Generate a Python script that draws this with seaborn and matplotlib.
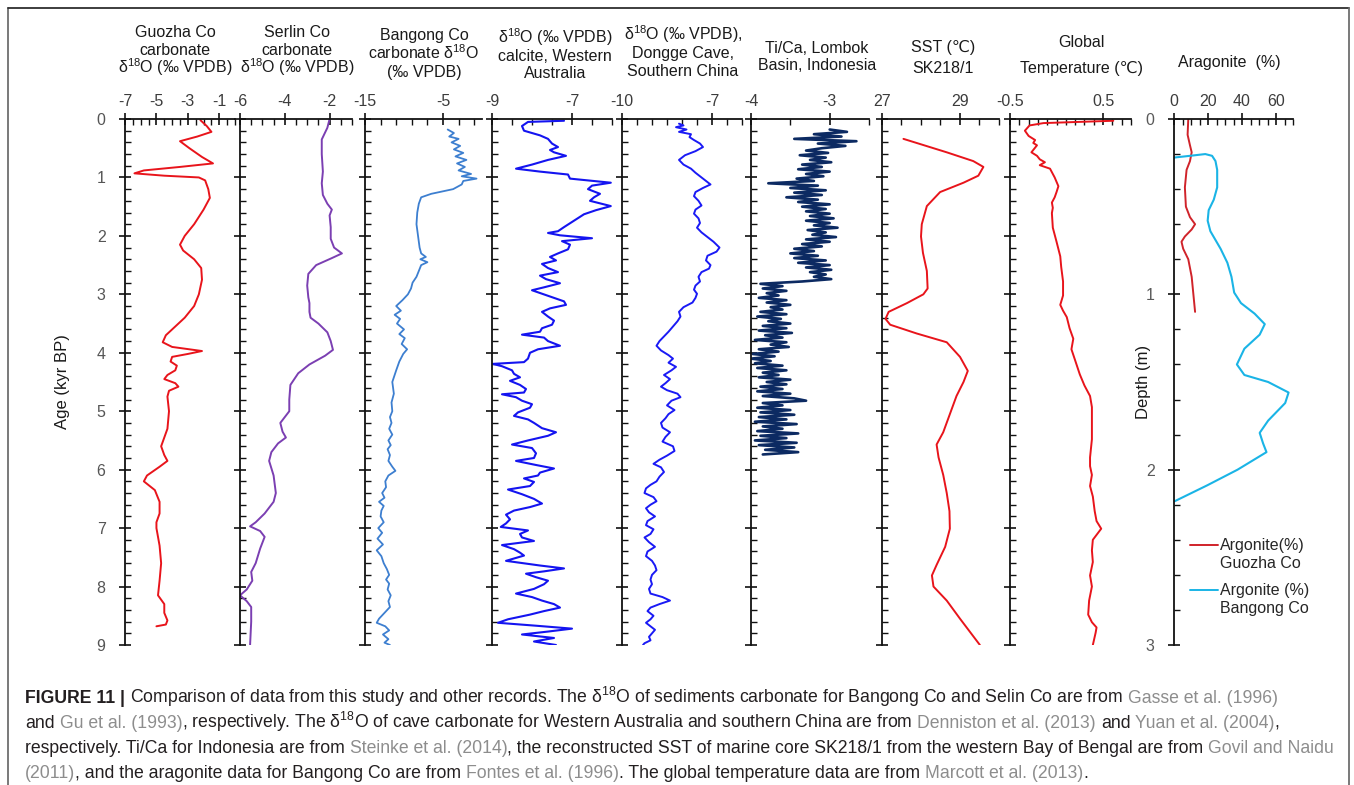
import numpy as np
import matplotlib
matplotlib.use("Agg")
import matplotlib.pyplot as plt
from matplotlib.lines import Line2D
from matplotlib.ticker import FixedLocator, FixedFormatter, MultipleLocator
import seaborn as sns

sns.set_theme(style="ticks")
plt.rcParams["font.family"] = ["Liberation Sans", "DejaVu Sans"]
plt.rcParams["mathtext.fontset"] = "custom"
plt.rcParams["mathtext.rm"] = "Liberation Sans"
plt.rcParams["mathtext.it"] = "Liberation Sans:italic"
plt.rcParams["mathtext.bf"] = "Liberation Sans:bold"
plt.rcParams["axes.unicode_minus"] = False
plt.rcParams["lines.solid_joinstyle"] = "round"

# ---------------- records (age in kyr BP) ----------------
guozha_age = [0.02, 0.12, 0.22, 0.30, 0.38, 0.50, 0.65, 0.76, 0.82, 0.88, 0.93, 0.97, 1.00, 1.05,
              1.20, 1.35, 1.55, 1.80, 2.00, 2.15, 2.25, 2.40, 2.55, 2.75, 3.00, 3.20, 3.40, 3.55,
              3.70, 3.82, 3.90, 3.97, 4.02, 4.07, 4.15, 4.22, 4.30, 4.38, 4.45, 4.52, 4.58, 4.65,
              4.75, 5.00, 5.30, 5.60, 5.75, 5.85, 5.95, 6.10, 6.20, 6.35, 6.55, 6.75, 6.90, 7.00,
              7.30, 7.60, 7.90, 8.15, 8.30, 8.45, 8.58, 8.65, 8.68]
guozha_d18o = [-2.2, -1.8, -1.5, -2.4, -3.5, -2.9, -2.1, -1.4, -3.5, -5.8, -6.4, -4.5, -2.3, -1.9,
               -1.7, -1.6, -2.0, -2.6, -3.2, -3.5, -3.3, -2.6, -2.15, -2.1, -2.3, -2.6, -3.2, -3.8,
               -4.4, -4.6, -4.0, -2.1, -3.0, -4.0, -4.1, -3.7, -3.8, -4.3, -4.5, -3.8, -3.6, -4.2,
               -4.3, -4.2, -4.3, -4.7, -4.5, -4.3, -4.8, -5.6, -5.8, -5.1, -4.8, -4.8, -5.0, -5.0,
               -4.8, -4.7, -4.8, -4.9, -4.5, -4.5, -4.3, -4.4, -5.0]

serlin_age = [0.0, 0.15, 0.35, 0.6, 0.9, 1.1, 1.3, 1.45, 1.55, 1.65, 1.85, 2.05, 2.2, 2.3, 2.38,
              2.5, 2.65, 2.85, 3.05, 3.15, 3.3, 3.4, 3.5, 3.65, 3.8, 3.95, 4.05, 4.2, 4.35, 4.55,
              4.8, 5.0, 5.2, 5.35, 5.45, 5.55, 5.7, 5.85, 6.1, 6.4, 6.55, 6.75, 6.9, 6.97, 7.05,
              7.15, 7.35, 7.6, 7.75, 7.9, 8.05, 8.15, 8.25, 8.35, 8.6, 9.0]
serlin_d18o = [-2.0, -2.1, -2.35, -2.35, -2.3, -2.35, -2.3, -2.1, -1.9, -2.0, -1.95, -1.95, -1.8,
               -1.45, -1.9, -2.6, -2.95, -3.0, -2.95, -2.9, -2.9, -2.85, -2.5, -2.1, -1.95, -1.85,
               -2.2, -2.9, -3.4, -3.75, -3.8, -3.8, -4.2, -4.1, -3.95, -4.3, -4.6, -4.7, -4.5,
               -4.4, -4.5, -4.9, -5.3, -5.55, -5.1, -4.9, -5.1, -5.3, -5.5, -5.45, -5.7, -6.0,
               -5.7, -5.5, -5.5, -5.55]

bangong_age = [0.18, 0.24, 0.30, 0.34, 0.40, 0.46, 0.52, 0.58, 0.64, 0.70, 0.76, 0.82, 0.88, 0.94,
               0.98, 1.02, 1.06, 1.12, 1.20, 1.28, 1.34, 1.45, 1.60, 1.80, 2.00, 2.20, 2.30, 2.36,
               2.40, 2.45, 2.50, 2.60, 2.70, 2.80, 2.90, 3.00, 3.10, 3.20, 3.28, 3.35, 3.42, 3.50,
               3.60, 3.68, 3.75, 3.85, 3.94, 4.02, 4.15, 4.30, 4.50, 4.70, 4.85, 5.00, 5.10, 5.20,
               5.30, 5.40, 5.50, 5.58, 5.65, 5.75, 5.85, 5.95, 6.02, 6.10, 6.20, 6.30, 6.40, 6.48,
               6.55, 6.62, 6.70, 6.80, 6.90, 7.00, 7.08, 7.18, 7.28, 7.38, 7.48, 7.60, 7.70, 7.80,
               7.88, 7.95, 8.05, 8.15, 8.25, 8.35, 8.45, 8.55, 8.62, 8.68, 8.75, 8.82, 8.90, 8.96,
               9.00]
bangong_d18o = [-4.4, -3.6, -4.2, -3.0, -3.9, -2.8, -3.6, -2.4, -3.4, -2.0, -3.2, -2.2, -3.0, -1.4,
                -2.6, -0.7, -2.4, -2.6, -3.7, -6.5, -7.8, -8.1, -8.3, -8.4, -8.2, -8.0, -7.8, -7.2,
                -7.9, -7.0, -7.8, -8.1, -8.4, -8.9, -9.1, -9.5, -10.2, -11.0, -10.4, -11.2, -10.5,
                -10.9, -10.0, -10.6, -9.9, -10.3, -9.6, -10.1, -10.6, -11.0, -11.5, -11.3, -11.6,
                -11.5, -11.8, -11.6, -11.9, -11.5, -12.0, -11.7, -12.1, -11.8, -12.0, -11.5, -11.1,
                -12.0, -12.4, -12.3, -12.8, -12.5, -13.2, -12.6, -12.9, -13.0, -12.6, -13.3, -12.8,
                -13.4, -12.7, -13.5, -12.9, -12.6, -12.2, -11.9, -12.3, -11.9, -12.1, -11.7, -12.0,
                -11.8, -12.5, -13.2, -13.5, -12.4, -11.9, -12.7, -12.0, -12.5, -11.8]

wa_age = [0.03, 0.05, 0.12, 0.20, 0.28, 0.34, 0.42, 0.48, 0.53, 0.57, 0.63, 0.70, 0.78, 0.85, 0.90,
          0.95, 1.02, 1.09, 1.14, 1.20, 1.28, 1.34, 1.40, 1.49, 1.56, 1.63, 1.74, 1.85, 1.92, 1.95,
          1.99, 2.04, 2.09, 2.15, 2.23, 2.30, 2.36, 2.42, 2.48, 2.55, 2.62, 2.68, 2.74, 2.81, 2.88,
          2.93, 2.99, 3.06, 3.12, 3.18, 3.24, 3.30, 3.38, 3.45, 3.52, 3.58, 3.64, 3.69, 3.74, 3.80,
          3.88, 3.94, 4.00, 4.10, 4.16, 4.19, 4.23, 4.30, 4.36, 4.42, 4.48, 4.55, 4.62, 4.68, 4.71,
          4.76, 4.82, 4.88, 4.94, 5.02, 5.08, 5.14, 5.20, 5.29, 5.36, 5.42, 5.50, 5.57, 5.63, 5.72,
          5.80, 5.85, 5.92, 5.98, 6.05, 6.10, 6.15, 6.21, 6.28, 6.34, 6.42, 6.50, 6.58, 6.64, 6.70,
          6.77, 6.85, 6.92, 6.98, 7.04, 7.10, 7.16, 7.22, 7.29, 7.36, 7.42, 7.47, 7.56, 7.64, 7.69,
          7.74, 7.78, 7.84, 7.90, 7.96, 8.04, 8.12, 8.18, 8.24, 8.30, 8.36, 8.42, 8.48, 8.56, 8.62,
          8.67, 8.72, 8.77, 8.82, 8.88, 8.94, 9.00]
wa_d18o = [-7.20, -8.10, -8.25, -8.20, -7.80, -7.60, -7.50, -7.35, -7.55, -7.45, -7.15, -7.60, -8.00,
           -8.40, -7.80, -7.10, -7.05, -6.03, -6.50, -6.60, -6.30, -6.45, -6.55, -6.03, -6.40, -6.70,
           -6.95, -7.20, -7.35, -7.60, -7.30, -6.50, -7.25, -7.05, -7.10, -7.35, -7.55, -7.40, -7.75,
           -7.60, -7.35, -7.80, -7.65, -7.30, -7.70, -8.00, -7.75, -7.45, -7.20, -7.15, -7.55, -7.75,
           -7.60, -7.45, -7.50, -7.75, -7.80, -8.25, -7.70, -7.60, -7.30, -7.85, -8.05, -8.10, -8.20,
           -8.98, -8.75, -8.50, -8.45, -8.30, -8.55, -8.30, -8.15, -8.20, -8.75, -8.40, -8.25, -8.00,
           -8.05, -8.35, -8.45, -8.10, -7.95, -7.75, -7.40, -7.60, -8.10, -8.50, -8.00, -7.90, -7.95,
           -8.40, -7.90, -7.45, -7.80, -7.85, -8.20, -7.95, -8.05, -8.60, -8.25, -7.95, -7.75, -8.05,
           -8.45, -8.65, -8.55, -8.65, -8.78, -8.10, -8.30, -8.25, -7.95, -8.75, -8.45, -8.30, -8.20,
           -8.65, -7.80, -7.20, -7.70, -8.15, -7.90, -7.60, -7.70, -7.95, -8.40, -8.00, -7.75, -7.45,
           -7.30, -7.70, -8.05, -8.60, -8.85, -7.90, -7.00, -7.60, -8.25, -7.45, -7.95, -7.40]

dongge_age = [0.08, 0.11, 0.14, 0.18, 0.22, 0.26, 0.31, 0.36, 0.42, 0.48, 0.55, 0.62, 0.70, 0.78,
              0.85, 0.92, 1.00, 1.06, 1.12, 1.18, 1.25, 1.32, 1.40, 1.48, 1.55, 1.62, 1.70, 1.78,
              1.86, 1.94, 2.02, 2.10, 2.20, 2.27, 2.34, 2.42, 2.50, 2.56, 2.62, 2.70, 2.78, 2.85,
              2.92, 2.99, 3.06, 3.14, 3.22, 3.30, 3.38, 3.46, 3.55, 3.64, 3.72, 3.80, 3.88, 3.96,
              4.04, 4.10, 4.17, 4.24, 4.30, 4.38, 4.45, 4.52, 4.58, 4.64, 4.70, 4.76, 4.82, 4.90,
              4.98, 5.05, 5.12, 5.20, 5.28, 5.36, 5.44, 5.52, 5.60, 5.68, 5.76, 5.83, 5.90, 5.96,
              6.04, 6.12, 6.20, 6.26, 6.32, 6.40, 6.47, 6.54, 6.60, 6.66, 6.73, 6.80, 6.88, 6.95,
              7.02, 7.10, 7.16, 7.24, 7.32, 7.40, 7.48, 7.56, 7.64, 7.72, 7.80, 7.88, 7.96, 8.04,
              8.12, 8.18, 8.24, 8.30, 8.36, 8.42, 8.50, 8.56, 8.62, 8.68, 8.74, 8.80, 8.86, 8.92,
              8.97, 9.00]
dongge_d18o = [-8.10, -7.95, -8.20, -7.85, -8.10, -7.70, -7.75, -7.60, -7.40, -7.30, -7.55, -7.90,
               -8.10, -7.95, -7.70, -7.55, -7.35, -7.20, -7.05, -7.30, -7.55, -7.60, -7.45, -7.35,
               -7.55, -7.60, -7.45, -7.40, -7.50, -7.35, -7.15, -6.95, -6.75, -6.85, -7.15, -7.20,
               -7.05, -7.10, -7.35, -7.45, -7.40, -7.55, -7.60, -7.50, -7.55, -7.65, -7.95, -8.10,
               -8.05, -8.15, -8.30, -8.45, -8.60, -8.75, -8.85, -8.70, -8.45, -8.30, -8.45, -8.20,
               -8.35, -8.60, -8.40, -8.55, -8.70, -8.50, -8.15, -8.05, -8.35, -8.50, -8.25, -8.45,
               -8.55, -8.70, -8.65, -8.40, -8.55, -8.65, -8.30, -8.25, -8.50, -8.75, -8.95, -8.70,
               -8.60, -8.75, -8.85, -9.05, -9.20, -9.25, -8.95, -8.85, -9.05, -9.20, -9.10, -8.90,
               -9.15, -9.20, -8.95, -9.05, -9.25, -9.10, -8.90, -9.15, -9.20, -9.00, -8.90, -8.85,
               -9.00, -9.05, -9.00, -9.10, -9.05, -8.65, -8.40, -8.75, -9.05, -9.15, -8.95, -9.05,
               -9.20, -9.05, -8.90, -9.00, -9.10, -9.05, -9.25, -9.30]

tica_age = [0.18, 0.22, 0.26, 0.30, 0.34, 0.38, 0.42, 0.46, 0.50, 0.54, 0.58, 0.62, 0.66, 0.70,
            0.74, 0.78, 0.82, 0.86, 0.90, 0.94, 0.98, 1.02, 1.06, 1.10, 1.14, 1.18, 1.22, 1.26,
            1.30, 1.34, 1.38, 1.42, 1.46, 1.50, 1.54, 1.58, 1.62, 1.66, 1.70, 1.74, 1.78, 1.82,
            1.86, 1.90, 1.94, 1.98, 2.02, 2.06, 2.10, 2.14, 2.18, 2.22, 2.26, 2.30, 2.34, 2.38,
            2.42, 2.46, 2.50, 2.54, 2.58, 2.62, 2.66, 2.70, 2.74, 2.78, 2.82, 2.86, 2.90, 2.94,
            2.98, 3.02, 3.06, 3.10, 3.14, 3.18, 3.22, 3.26, 3.30, 3.34, 3.38, 3.42, 3.46, 3.50,
            3.54, 3.58, 3.62, 3.66, 3.70, 3.74, 3.78, 3.82, 3.86, 3.90, 3.94, 3.98, 4.02, 4.06,
            4.10, 4.14, 4.18, 4.22, 4.26, 4.30, 4.34, 4.38, 4.42, 4.46, 4.50, 4.54, 4.58, 4.62,
            4.66, 4.70, 4.74, 4.78, 4.82, 4.86, 4.90, 4.94, 4.98, 5.02, 5.06, 5.10, 5.14, 5.18,
            5.22, 5.26, 5.30, 5.34, 5.38, 5.42, 5.46, 5.50, 5.54, 5.58, 5.62, 5.66, 5.70, 5.74]
tica_ratio = [-3.00, -2.78, -3.20, -2.85, -3.45, -2.66, -3.15, -2.80, -3.10,
              -3.30, -3.02, -3.38, -3.05, -3.25, -2.98, -3.35, -3.10, -3.40, -3.00, -3.30, -3.08, -3.42,
              -3.20, -3.78, -3.15, -3.50, -3.05, -3.45, -3.10, -3.55, -3.15, -3.40, -3.00, -3.35, -3.05, -3.30,
              -3.00, -3.25, -2.95, -3.30, -3.00, -3.20, -2.90, -3.28, -3.05, -3.22, -2.92, -3.30, -3.00,
              -3.35, -3.10, -3.45,
              -3.20, -3.50, -3.15, -3.45, -3.05, -3.40, -3.00, -3.30, -2.98, -3.25, -3.05, -3.20, -2.98,
              -3.35,
              -3.88, -3.60, -3.85, -3.55, -3.80, -3.65, -3.90, -3.55, -3.80, -3.50, -3.75, -3.60, -3.88,
              -3.55, -3.92, -3.62, -3.78, -3.50,
              -3.85, -3.55, -3.90, -3.48, -3.82, -3.60, -3.95, -3.55, -3.75, -3.52, -3.90, -3.65, -3.98,
              -3.70,
              -4.00, -3.75, -3.95, -3.60, -3.92, -3.55, -3.85, -3.65, -3.90, -3.50,
              -3.80, -3.55, -3.88, -3.60, -3.92, -3.50, -3.85, -3.45, -3.30, -3.85,
              -3.60, -3.92, -3.50, -3.88, -3.45, -3.90, -3.55, -3.95, -3.42, -3.85, -3.60, -3.92, -3.40,
              -3.88, -3.55, -3.95, -3.42, -3.90, -3.45, -3.82, -3.40, -3.85]

sst_age = [0.34, 0.57, 0.72, 0.82, 0.97, 1.09, 1.25, 1.49, 1.80, 2.01, 2.29, 2.60, 2.90, 3.00,
           3.15, 3.30, 3.42, 3.52, 3.67, 3.82, 4.07, 4.31, 4.50, 4.74, 5.05, 5.36, 5.57, 5.79,
           6.09, 6.40, 6.71, 7.01, 7.32, 7.63, 7.81, 8.00, 8.24, 8.55, 8.85, 9.00]
sst_c = [27.55, 28.66, 29.34, 29.60, 29.47, 29.09, 28.49, 28.15, 28.02, 28.00, 28.05, 28.15, 28.17,
         28.06, 27.64, 27.17, 27.09, 27.21, 27.89, 28.66, 29.00, 29.20, 29.09, 28.91, 28.74, 28.57,
         28.40, 28.45, 28.57, 28.66, 28.73, 28.74, 28.62, 28.40, 28.28, 28.32, 28.66, 29.00, 29.34,
         29.51]

gt_age = [0.03, 0.07, 0.11, 0.20, 0.29, 0.36, 0.41, 0.45, 0.57, 0.63, 0.69, 0.74, 0.79, 0.85, 1.00,
          1.15, 1.25, 1.34, 1.43, 1.52, 1.61, 1.86, 2.10, 2.35, 2.53, 2.78, 3.02, 3.18, 3.28, 3.39,
          3.58, 3.76, 3.94, 4.13, 4.37, 4.56, 4.74, 4.93, 5.17, 5.48, 5.79, 5.94, 6.09, 6.28, 6.46,
          6.71, 6.88, 7.01, 7.20, 7.38, 7.58, 7.81, 8.00, 8.24, 8.48, 8.61, 8.70, 8.79, 9.00]
gt_anom = [0.61, -0.14, -0.29, -0.34, -0.30, -0.23, -0.25, -0.21, -0.27, -0.21, -0.18, -0.125, -0.18,
           -0.07, -0.02, 0.02, 0.0, -0.02, -0.05, -0.04, -0.05, -0.04, 0.0, 0.04, 0.05, 0.07, 0.07,
           0.04, 0.07, 0.11, 0.14, 0.18, 0.16, 0.20, 0.25, 0.30, 0.36, 0.38, 0.38, 0.38, 0.36, 0.36,
           0.38, 0.36, 0.39, 0.41, 0.43, 0.48, 0.39, 0.38, 0.39, 0.36, 0.38, 0.35, 0.34, 0.38, 0.43,
           0.42, 0.39]

arag_gz_depth = [0.0, 0.09, 0.15, 0.19, 0.24, 0.29, 0.39, 0.50, 0.56, 0.60, 0.63, 0.67, 0.70, 0.74,
                 0.80, 0.90, 1.00, 1.10]
arag_gz_pct = [8.4, 8.0, 9.4, 10.4, 9.4, 7.4, 6.4, 7.0, 9.4, 12.4, 10.4, 6.4, 4.4, 5.4, 8.4, 10.4,
               11.4, 12.4]

arag_bg_depth = [0.22, 0.21, 0.20, 0.21, 0.24, 0.29, 0.39, 0.46, 0.52, 0.58, 0.64, 0.74, 0.82, 0.90,
                 0.99, 1.05, 1.11, 1.17, 1.23, 1.31, 1.40, 1.46, 1.50, 1.56, 1.62, 1.72, 1.79, 1.85,
                 1.90, 2.00, 2.09, 2.18]
arag_bg_pct = [0.0, 9.4, 18.4, 22.4, 24.4, 25.4, 25.4, 23.4, 20.4, 19.8, 21.4, 27.4, 31.4, 33.8,
               35.4, 39.4, 47.4, 53.4, 50.4, 41.4, 37.0, 41.4, 55.4, 67.4, 65.4, 55.4, 50.4, 52.4,
               54.4, 37.4, 19.4, 0.4]

# ---------------- layout helpers (pixel space) ----------------
W, H = 1354, 785
fig = plt.figure(figsize=(W / 100, H / 100), dpi=100)
fig.patch.set_facecolor("white")
TOP, BOT = 119, 645
TICK_COLOR = "#3c3c3c"


def add_panel(x0, x1):
    return fig.add_axes([x0 / W, 1 - BOT / H, (x1 - x0) / W, (BOT - TOP) / H])


def style(ax, xlim, major, major_lbl, minor, ylim, yticks, ylabels, ylab_color="#555555"):
    ax.set_facecolor("none")
    ax.set_xlim(*xlim)
    ax.set_ylim(*ylim)
    for s in ("right", "bottom"):
        ax.spines[s].set_visible(False)
    for s in ("left", "top"):
        ax.spines[s].set_color("#111111")
        ax.spines[s].set_linewidth(1.3)
    ax.xaxis.set_ticks_position("top")
    ax.xaxis.set_label_position("top")
    ax.xaxis.set_major_locator(FixedLocator(major))
    ax.xaxis.set_major_formatter(FixedFormatter(major_lbl))
    ax.xaxis.set_minor_locator(FixedLocator(minor))
    ax.yaxis.set_major_locator(FixedLocator(yticks))
    ax.yaxis.set_minor_locator(MultipleLocator(0.2))
    ax.tick_params(which="major", direction="inout", length=8, width=1.2, color="#111111",
                   labelsize=11.5, labelcolor=TICK_COLOR)
    ax.tick_params(which="minor", direction="in", length=4, width=1.0, color="#111111")
    ax.tick_params(axis="x", which="major", pad=3)
    ax.tick_params(axis="y", which="major", pad=10, labelcolor=ylab_color)
    ax.grid(False)
    ax.set_xlabel("")
    ax.set_ylabel("")
    if ylabels:
        ax.yaxis.set_major_formatter(FixedFormatter([str(v) for v in yticks]))
    else:
        ax.tick_params(axis="y", labelleft=False)


def trace(ax, x, y, color, lw=1.4):
    sns.lineplot(x=x, y=y, sort=False, estimator=None, color=color, linewidth=lw,
                 legend=False, ax=ax)


ages = list(range(10))
panels = [
    # x0, x1, xlim, major ticks, major labels, minor ticks, data, colour, lw
    (125, 235, (-7, 0), [-7, -5, -3, -1], ["-7", "-5", "-3", "-1"], np.arange(-7, 0.01, 0.5),
     (guozha_d18o, guozha_age), "#e8141b", 1.4),
    (240, 352, (-6, -1), [-6, -4, -2], ["-6", "-4", "-2"], np.arange(-6, -0.99, 0.5),
     (serlin_d18o, serlin_age), "#7b3fb2", 1.4),
    (365, 482, (-15, 0), [-15, -5], ["-15", "-5"], np.arange(-15, 0, 2),
     (bangong_d18o, bangong_age), "#3d7fd0", 1.3),
    (492, 612, (-9, -6), [-9, -7], ["-9", "-7"], np.arange(-9, -5.99, 0.5),
     (wa_d18o, wa_age), "#1414f0", 1.5),
    (622, 742, (-10, -6), [-10, -7], ["-10", "-7"], np.arange(-10, -5.99, 0.5),
     (dongge_d18o, dongge_age), "#1a1af5", 1.4),
    (751, 869, (-4, -2.5), [-4, -3], ["-4", "-3"], np.arange(-4, -2.49, 0.5),
     (tica_ratio, tica_age), "#0c2a62", 1.9),
    (882, 999, (27, 30), [27, 29], ["27", "29"], np.arange(27, 30.01, 0.5),
     (sst_c, sst_age), "#e8141b", 1.4),
    (1010, 1131, (-0.5, 0.8), [-0.5, 0.5], ["-0.5", "0.5"], np.arange(-0.5, 0.81, 0.1),
     (gt_anom, gt_age), "#e8141b", 1.4),
]

for i, (x0, x1, xlim, mj, mjl, mn, (xv, yv), col, lw) in enumerate(panels):
    ax = add_panel(x0, x1)
    trace(ax, xv, yv, col, lw)
    style(ax, xlim, mj, mjl, mn, (9, 0), ages, ylabels=(i == 0))
    if i == 0:
        ax.set_ylabel("Age (kyr BP)", fontsize=12, color="#1a1a1a", labelpad=19)

# aragonite panel against depth
axd = add_panel(1174, 1293)
trace(axd, arag_gz_pct, arag_gz_depth, "#d0232a", 1.4)
trace(axd, arag_bg_pct, arag_bg_depth, "#1ab4e6", 1.5)
style(axd, (0, 70), [0, 20, 40, 60], ["0", "20", "40", "60"], np.arange(0, 70.1, 5),
      (3, 0), [0, 1, 2, 3], ylabels=True, ylab_color="#5a5a5a")
axd.set_ylabel("Depth (m)", fontsize=12, color="#1a1a1a", labelpad=-4)

# legend of the aragonite panel
for (ly, col, l1, l2) in [(545, "#d0232a", "Argonite(%)", "Guozha Co"),
                          (590, "#1ab4e6", "Argonite (%)", "Bangong Co")]:
    fig.add_artist(Line2D([1190 / W, 1218 / W], [1 - ly / H, 1 - ly / H], color=col, lw=1.4,
                          transform=fig.transFigure))
    fig.text(1220 / W, 1 - (ly + 5) / H, l1, fontsize=11.5, color="#262626", va="baseline")
    fig.text(1220 / W, 1 - (ly + 23) / H, l2, fontsize=11.5, color="#262626", va="baseline")

# column headings
D18 = "δ$^{18}$O"
headings = [
    (175, [("Guozha Co", 32), ("carbonate", 50), (D18 + " (‰ VPDB)", 68)]),
    (297, [("Serlin Co", 32), ("carbonate", 50), (D18 + " (‰ VPDB)", 68)]),
    (424, [("Bangong Co", 35), ("carbonate " + D18, 54), ("(‰ VPDB)", 72)]),
    (555, [(D18 + " (‰ VPDB)", 38), ("calcite, Western", 56), ("Australia", 73)]),
    (683, [(D18 + " (‰ VPDB),", 35), ("Dongge Cave,", 53), ("Southern China", 71)]),
    (817, [("Ti/Ca, Lombok", 48), ("Basin, Indonesia", 65)]),
    (943, [("SST (℃)", 47), ("SK218/1", 68)]),
    (1081, [("Global", 42), ("Temperature (℃)", 68)]),
    (1229, [("Aragonite  (%)", 62)]),
]
for cx, lines in headings:
    for txt, cy in lines:
        fig.text(cx / W, 1 - (cy + 5) / H, txt, fontsize=11.5, color="#1a1a1a",
                 ha="center", va="baseline")

# frame around the figure
for xs, ys, col in [([8, 8], [8, H], "#6e6e6e"), ([8, 1349], [8, 8], "#2e2e2e"),
                    ([1349, 1349], [8, H], "#6e6e6e")]:
    fig.add_artist(Line2D([x / W for x in xs], [1 - y / H for y in ys], color=col, lw=1.3,
                          transform=fig.transFigure))

# caption with highlighted citations, one common size fitted to the first line
DARK, GREY = "#231f20", "#8d8d8d"
caption = [
    (703, [("FIGURE 11 | ", "b"), ("Comparison of data from this study and other records. The "
                                    + D18 + " of sediments carbonate for Bangong Co and Selin Co are from ", "n"),
           ("Gasse et al. (1996)", "g")]),
    (728, [("and ", "n"), ("Gu et al. (1993)", "g"),
           (", respectively. The " + D18 + " of cave carbonate for Western Australia and southern China are from ", "n"),
           ("Denniston et al. (2013)", "g"), (" and ", "n"), ("Yuan et al. (2004)", "g"), (",", "n")]),
    (753, [("respectively. Ti/Ca for Indonesia are from ", "n"), ("Steinke et al. (2014)", "g"),
           (", the reconstructed SST of marine core SK218/1 from the western Bay of Bengal are from ", "n"),
           ("Govil and Naidu", "g")]),
    (778, [("(2011)", "g"), (", and the aragonite data for Bangong Co are from ", "n"),
           ("Fontes et al. (1996)", "g"), (". The global temperature data are from ", "n"),
           ("Marcott et al. (2013)", "g"), (".", "n")]),
]
CAP_X, CAP_END1 = 25, 1278
renderer = fig.canvas.get_renderer()


def space_width(size):
    p1 = fig.text(0, 0, "a a", fontsize=size)
    p2 = fig.text(0, 0, "aa", fontsize=size)
    w = p1.get_window_extent(renderer).width - p2.get_window_extent(renderer).width
    p1.remove()
    p2.remove()
    return w


def draw_line(y, pieces, size):
    sp = space_width(size)
    arts = []
    x = CAP_X
    for txt, kind in pieces:
        lead = len(txt) - len(txt.lstrip(" "))
        trail = len(txt) - len(txt.rstrip(" "))
        x += lead * sp
        t = fig.text(x / W, 1 - y / H, txt.strip(" "), fontsize=size, va="baseline", ha="left",
                     color=GREY if kind == "g" else DARK,
                     fontweight="bold" if kind == "b" else "normal")
        x += t.get_window_extent(renderer).width + trail * sp
        arts.append(t)
    return arts, x - CAP_X


probe_arts, probe_w = draw_line(caption[0][0], caption[0][1], 12.0)
for a in probe_arts:
    a.remove()
cap_size = 12.0 * (CAP_END1 - CAP_X) / probe_w
for y, pieces in caption:
    draw_line(y, pieces, cap_size)

fig.savefig("out.png", dpi=100)
